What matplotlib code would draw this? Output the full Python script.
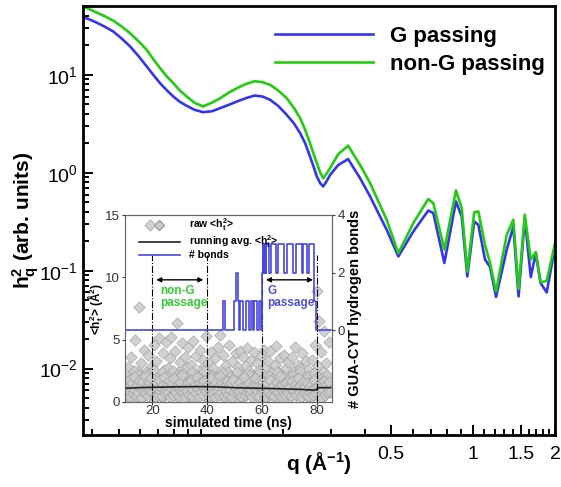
import matplotlib
matplotlib.use("Agg")
import matplotlib.pyplot as plt
import numpy as np
from matplotlib.ticker import FixedLocator, NullFormatter, LogLocator
from matplotlib.lines import Line2D

plt.rcParams['font.family'] = ['Liberation Sans', 'DejaVu Sans']
plt.rcParams['mathtext.fontset'] = 'custom'
plt.rcParams['mathtext.rm'] = 'Liberation Sans'
plt.rcParams['mathtext.bf'] = 'Liberation Sans:bold'
plt.rcParams['mathtext.it'] = 'Liberation Sans:italic'

# main spectrum
q = [0.0371, 0.0393, 0.0415, 0.0445, 0.0478, 0.0513, 0.0551, 0.0592, 0.0634, 0.0670,
     0.0710, 0.0750, 0.0794, 0.084, 0.0889, 0.095, 0.102, 0.110, 0.118, 0.127,
     0.136, 0.147, 0.158, 0.169, 0.180, 0.193, 0.207, 0.220, 0.232, 0.242,
     0.252, 0.260, 0.267, 0.275, 0.282, 0.290, 0.299, 0.320, 0.348,
     0.385, 0.419, 0.482, 0.532, 0.604, 0.685, 0.715, 0.785, 0.866, 0.909,
     0.953, 1.01, 1.046, 1.107, 1.155, 1.215, 1.33, 1.406, 1.47, 1.549,
     1.63, 1.70, 1.77, 1.865, 2.0]
h2_G = [38.8, 36.6, 34.2, 31.0, 27.7, 23.5, 19.5, 15.5, 12.2, 10.0,
        8.22, 7.0, 6.01, 5.3, 4.83, 4.4, 4.16, 4.25, 4.57, 4.95,
        5.35, 5.8, 6.15, 6.0, 5.56, 4.8, 3.91, 3.2, 2.54, 2.0,
        1.47, 1.15, 0.918, 0.78, 0.726, 0.82, 0.954, 1.2, 1.38,
        0.88, 0.573, 0.262, 0.14, 0.252, 0.412, 0.388, 0.12, 0.51, 0.358,
        0.0875, 0.318, 0.295, 0.13, 0.109, 0.054, 0.164, 0.283, 0.0547, 0.345,
        0.086, 0.151, 0.075, 0.060, 0.177]
h2_nonG = [49.8, 46.5, 43.3, 39.7, 35.8, 31.2, 26.6, 22.0, 18.0, 14.5,
           11.7, 9.7, 8.22, 6.9, 6.01, 5.2, 4.75, 5.2, 5.78, 6.6,
           7.31, 8.1, 8.62, 8.4, 7.91, 6.9, 5.78, 4.6, 3.61, 2.75,
           2.01, 1.55, 1.26, 1.0, 0.88, 0.98, 1.12, 1.55, 1.89,
           1.2, 0.785, 0.331, 0.151, 0.307, 0.539, 0.49, 0.164, 0.66, 0.436,
           0.098, 0.394, 0.403, 0.184, 0.12, 0.0615, 0.233, 0.331, 0.065, 0.373,
           0.13, 0.155, 0.076, 0.079, 0.19]

# inset: raw <h_t^2> samples
raw_v1 = [1.2, 0.6, 2.8, 1.5, 0.4, 3.6, 1.1, 2.2, 0.8, 5.0, 1.7, 0.5, 2.5, 7.6, 1.3, 3.1, 0.7, 1.9, 4.2, 0.9,
          2.4, 1.4, 3.8, 0.6, 14.2, 1.8, 2.9, 0.5, 4.6, 1.2, 3.3, 0.8, 2.0, 5.1, 1.5, 0.4, 3.9, 2.6, 1.0, 4.8,
          1.6, 2.7, 0.7, 3.5, 5.2, 1.3, 2.1, 0.9, 4.1, 1.8, 6.3, 2.4, 0.6, 3.2, 1.4, 4.7, 2.0, 0.8, 3.6, 1.1,
          2.8, 4.4, 0.5, 1.7, 3.0, 0.9, 4.9, 2.2, 1.3, 3.7, 0.7, 2.5, 4.2, 1.0, 1.9, 3.4, 0.6, 2.9, 5.3, 1.5,
          3.1, 0.8, 2.3, 4.0, 1.2, 2.7, 0.5, 3.5, 1.6, 2.0, 4.4, 0.9, 5.4, 1.4, 2.6, 3.8, 0.7, 1.8, 3.0, 1.1,
          2.4, 4.6, 0.6, 1.5, 3.3, 2.0, 0.9, 3.9, 1.3, 2.8, 0.5, 4.1, 1.7, 2.2, 3.6, 0.8, 1.4, 2.9, 4.3, 1.0,
          2.5, 0.7, 3.4, 1.6, 2.1, 4.0, 0.9, 1.8, 3.1, 0.6, 2.6, 1.2, 3.7, 2.0, 0.8, 4.2, 1.5, 2.9, 0.5, 3.3,
          1.1, 4.1, 2.3, 0.7, 1.9, 3.0, 4.5, 1.3, 2.4, 0.6, 3.5, 1.7, 2.0, 0.9, 3.8, 1.4, 2.7, 0.5, 3.2, 1.6,
          2.2, 0.8, 3.6, 1.2, 2.5, 4.4, 0.6, 1.9, 3.0, 1.0, 2.7, 0.7, 3.9, 1.5, 2.1, 0.9, 3.3, 1.3, 2.6, 0.5,
          1.8, 3.4, 0.8, 2.3, 4.6, 1.1, 8.9, 2.9, 6.5, 1.5, 4.0, 0.7, 2.4, 5.7, 1.2, 3.1, 0.9, 2.0, 4.8, 1.4]
raw_v2 = [0.9, 1.6, 0.4, 2.1, 1.2, 0.7, 1.9, 1.0, 2.5, 0.5, 1.4, 0.8, 2.2, 1.1, 0.6, 1.7, 0.3, 2.0, 1.3, 0.9,
          1.5, 0.6, 2.3, 1.0, 0.4, 1.8, 1.2, 2.6, 0.7, 1.4, 0.5, 2.0, 1.1, 0.8, 1.6, 2.4, 0.4, 1.3, 0.9, 1.9,
          0.7, 2.1, 1.2, 0.5, 1.7, 1.0, 2.5, 0.6, 1.4, 0.9, 2.2, 0.4, 1.5, 1.1, 0.8, 1.8, 2.3, 0.6, 1.3, 1.0,
          2.0, 0.5, 1.6, 0.9, 2.4, 1.2, 0.7, 1.8, 0.4, 1.4, 2.1, 1.0, 0.6, 1.7, 1.3, 0.8, 2.5, 0.5, 1.5, 1.1,
          0.9, 1.9, 0.4, 1.2, 2.2, 0.7, 1.6, 1.0, 0.5, 2.0, 1.3, 0.8, 1.8, 0.6, 1.4, 2.3, 1.1, 0.4, 1.7, 0.9,
          1.5, 0.6, 2.1, 1.0, 0.8, 1.9, 1.2, 0.5, 2.4, 1.4, 0.7, 1.6, 1.1, 0.4, 2.0, 0.9, 1.3, 0.6, 1.8, 1.0,
          0.7, 2.2, 1.2, 0.5, 1.5, 0.9, 1.9, 0.6, 1.4, 1.1, 2.3, 0.8, 1.6, 0.4, 1.2, 2.0, 0.7, 1.7, 1.0, 0.5,
          1.3, 2.1, 0.8, 1.5, 0.6, 1.9, 1.1, 0.4, 2.4, 1.2, 0.9, 1.6, 0.5, 1.4, 2.0, 0.7, 1.3, 1.0, 1.8, 0.6,
          1.1, 0.5, 1.7, 2.2, 0.8, 1.4, 0.6, 1.9, 1.2, 0.9, 2.5, 0.4, 1.5, 1.0, 0.7, 1.8, 1.3, 0.5, 2.1, 1.1,
          0.8, 1.6, 0.4, 1.2, 2.3, 0.9, 1.5, 0.6, 2.0, 1.0, 1.4, 0.7, 1.9, 1.1, 0.5, 1.7, 0.9, 2.2, 1.3, 0.8]
raw_v3 = [0.6, 1.3, 0.9, 1.8, 0.4, 1.1, 1.5, 0.7, 2.0, 1.0, 0.5, 1.4, 0.8, 1.7, 1.2, 0.3, 1.6, 0.9, 1.1, 2.1,
          0.7, 1.2, 0.5, 1.6, 1.0, 1.9, 0.8, 1.3, 0.4, 1.5, 1.1, 0.6, 1.8, 0.9, 1.2, 0.5, 1.4, 2.0, 0.7, 1.0,
          1.3, 0.8, 1.7, 0.4, 1.1, 1.5, 0.6, 1.9, 1.0, 0.7, 1.4, 1.2, 0.5, 1.6, 0.9, 2.2, 0.8, 1.1, 0.4, 1.3,
          0.9, 1.6, 0.6, 1.2, 1.8, 0.5, 1.0, 1.4, 0.7, 2.0, 1.1, 0.4, 1.5, 0.8, 1.3, 0.6, 1.7, 1.0, 0.9, 1.2,
          1.4, 0.5, 1.1, 1.9, 0.7, 1.3, 0.9, 0.4, 1.6, 1.0, 1.2, 0.6, 2.1, 0.8, 1.5, 1.1, 0.5, 1.3, 0.9, 1.7,
          0.6, 1.2, 1.0, 1.5, 0.4, 1.8, 0.8, 1.1, 1.4, 0.7, 0.9, 1.6, 0.5, 1.2, 1.0, 2.0, 0.6, 1.3, 0.8, 1.1,
          1.5, 0.7, 1.0, 0.4, 1.4, 1.2, 1.9, 0.6, 0.9, 1.3, 0.5, 1.7, 1.1, 0.8, 1.6, 1.0, 0.4, 1.2, 1.5, 0.7,
          0.9, 1.8, 0.6, 1.1, 1.3, 0.5, 1.0, 1.6, 0.8, 1.2, 2.1, 0.4, 1.4, 0.9, 1.1, 0.6, 1.5, 1.0, 0.7, 1.3,
          1.2, 0.5, 1.7, 0.9, 1.0, 1.4, 0.6, 1.1, 1.9, 0.8, 1.3, 0.4, 1.0, 1.6, 0.7, 1.2, 0.9, 1.5, 0.5, 1.1,
          0.8, 1.4, 1.0, 0.6, 1.8, 1.1, 0.7, 1.3, 0.9, 1.5, 0.4, 1.2, 1.0, 1.7, 0.6, 1.4, 0.8, 1.1, 1.6, 0.9]
raw_t1 = np.linspace(10.2, 84.8, len(raw_v1))
raw_t2 = np.linspace(10.4, 84.6, len(raw_v2))
raw_t3 = np.linspace(10.3, 84.7, len(raw_v3))

# running average
avg_t = [10, 15, 20, 25, 30, 35, 40, 45, 50, 55, 60, 65, 70, 75, 78, 79.5, 80.5, 85]
avg_v = [1.1, 1.15, 1.18, 1.2, 1.22, 1.23, 1.23, 1.2, 1.15, 1.12, 1.1, 1.07, 1.04, 1.0, 0.96, 0.96, 1.15, 1.15]

# number of GUA-CYT hydrogen bonds (step changes)
bond_t = [10, 45.8, 46.4, 49.6, 50.4, 51.1, 51.6, 52.0, 52.9, 54.3, 55.2, 55.8, 56.6, 57.2, 58.3,
          58.8, 59.7, 60.0, 60.3, 60.5, 60.7, 60.9, 61.1, 61.3, 61.5, 62.5, 63.4, 65.2, 65.8,
          68.0, 69.2, 71.4, 72.3, 74.6, 75.1, 76.3, 77.0, 78.9, 79.8, 85]
bond_n = [0, 1, 0, 1, 2, 1, 0, 1, 0, 1, 0, 1, 0, 1, 0,
          1, 0, 2, 3, 2, 3, 2, 3, 2, 3, 2, 3, 2, 3,
          2, 3, 2, 3, 2, 3, 2, 3, 1, 0, 0]

blue = '#3535ee'
green = '#22cc11'

fig = plt.figure(figsize=(5.61, 4.87), dpi=100)
ax = fig.add_axes([83/561, 1-435/487, (555-83)/561, (435-6)/487])

ax.plot(q, h2_G, color=blue, lw=1.9, label='G passing')
ax.plot(q, h2_nonG, color=green, lw=1.9, label='non-G passing')
ax.set_xscale('log')
ax.set_yscale('log')
ax.set_xlim(0.037, 2.0)
ax.set_ylim(0.0021, 50.5)

ax.xaxis.set_major_locator(FixedLocator([0.5, 1, 1.5, 2]))
ax.set_xticklabels(['0.5', '1', '1.5', '2'])
minor_q = [0.04, 0.05, 0.06, 0.07, 0.08, 0.09, 0.1, 0.2, 0.3, 0.4, 0.6, 0.7, 0.8, 0.9,
           1.1, 1.2, 1.3, 1.4, 1.6, 1.7, 1.8, 1.9]
ax.xaxis.set_minor_locator(FixedLocator(minor_q))
ax.xaxis.set_minor_formatter(NullFormatter())
ax.yaxis.set_major_locator(LogLocator(base=10, numticks=10))
ax.yaxis.set_minor_locator(LogLocator(base=10, subs=np.arange(2, 10), numticks=20))
ax.yaxis.set_minor_formatter(NullFormatter())
ax.tick_params(which='both', direction='in', width=1.4, labelsize=14)
ax.tick_params(which='major', length=7)
ax.tick_params(which='minor', length=4)
ax.tick_params(axis='x', which='major', pad=8)
for s in ax.spines.values():
    s.set_linewidth(2)

ax.set_ylabel(r'h$_{\mathbf{q}}^{\mathbf{2}}$ (arb. units)', fontsize=15, fontweight='bold')
ax.yaxis.set_label_coords(-0.09, 0.5)
ax.set_xlabel(r'q (Å$^{\mathbf{-1}}$)', fontsize=15, fontweight='bold')
ax.xaxis.set_label_coords(0.5, -0.035)

ax.legend(loc='upper right', frameon=False, prop={'weight': 'bold', 'size': 16},
          handlelength=4.4, handletextpad=0.75, labelspacing=0.3, bbox_to_anchor=(1.02, 1.0))

# inset
ax_in = fig.add_axes([125/561, 1-402/487, 207/561, 187/487])
ax2 = ax_in.twinx()

ax_in.scatter(np.concatenate([raw_t1, raw_t2, raw_t3]), raw_v1 + raw_v2 + raw_v3, marker='D', s=34,
              facecolor='#cbcbcb', edgecolor='#9e9e9e', linewidth=0.45, alpha=0.9, zorder=2)
ax_in.plot(avg_t, avg_v, color='#222222', lw=1.2, zorder=4)
ax_in.vlines([20, 40, 60, 80], 0, 11.8, colors='k', linestyles='dashdot', lw=0.8, zorder=3)
ax_in.annotate('', xy=(20.4, 9.8), xytext=(39.6, 9.8),
               arrowprops=dict(arrowstyle='<|-|>', color='k', lw=1, mutation_scale=7))
ax_in.annotate('', xy=(60.4, 9.8), xytext=(79.6, 9.8),
               arrowprops=dict(arrowstyle='<|-|>', color='k', lw=1, mutation_scale=7))
ax_in.text(23, 7.7, 'non-G\npassage', color='#33cc33', fontsize=8.5, fontweight='bold',
           linespacing=1.0)
ax_in.text(62, 7.7, 'G\npassage', color='#5050d8', fontsize=8.5, fontweight='bold',
           linespacing=1.0)

ax2.plot(bond_t, bond_n, color='#4848e0', lw=1.2, drawstyle='steps-post')

ax_in.set_xlim(10, 85.5)
ax_in.set_ylim(0, 15)
ax2.set_ylim(-2.49, 4)
ax_in.set_xticks([20, 40, 60, 80])
ax_in.set_yticks([0, 5, 10, 15])
ax2.set_yticks([0, 2, 4])
for a in (ax_in, ax2):
    a.tick_params(labelsize=9.5, colors='#333333', length=2.5, width=0.8, pad=1.5)
    for s in a.spines.values():
        s.set_color('#666666')
        s.set_linewidth(0.8)
ax_in.tick_params(axis='x', pad=0.5, length=2)

ax_in.set_xlabel('simulated time (ns)', fontsize=10, fontweight='bold', labelpad=-1)
ax_in.set_ylabel(r'<h$_{\mathbf{t}}^{\mathbf{2}}$> (Å$^{\mathbf{2}}$)', fontsize=8.5,
                 fontweight='bold')
ax_in.yaxis.set_label_coords(-0.092, 0.5)
ax2.set_ylabel('# GUA-CYT hydrogen bonds', fontsize=10.5, fontweight='bold', labelpad=2)

handles = [Line2D([], [], marker='D', ls='none', markersize=5, markerfacecolor='#cbcbcb',
                  markeredgecolor='#9e9e9e'),
           Line2D([], [], color='#222222', lw=1.2),
           Line2D([], [], color='#4848e0', lw=1.2)]
labels = [r'raw <h$_{\mathbf{t}}^{\mathbf{2}}$>', r'running avg. <h$_{\mathbf{t}}^{\mathbf{2}}$>', '# bonds']
ax2.legend(handles, labels, loc='upper left', bbox_to_anchor=(0.03, 1.03), frameon=False,
           prop={'weight': 'bold', 'size': 7.5}, handlelength=4.0, labelspacing=0.0,
           borderpad=0.2, numpoints=1)

fig.savefig('out.png', dpi=100)
